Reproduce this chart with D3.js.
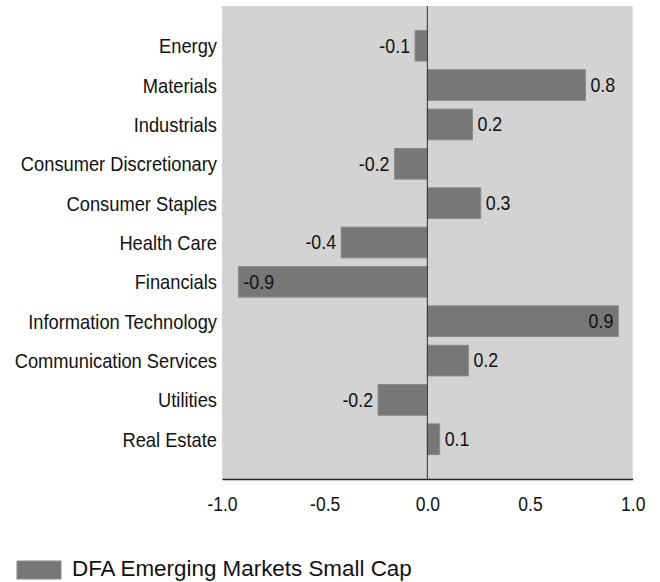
<!DOCTYPE html>
<html>
<head>
<meta charset="utf-8">
<script src="https://cdn.jsdelivr.net/npm/d3@7/dist/d3.min.js"></script>
<style>
  html, body { margin: 0; padding: 0; background: #fff; }
  svg { display: block; font-family: "Liberation Sans", Arial, sans-serif; }
</style>
</head>
<body>
<svg id="chart" width="660" height="582"></svg>
<script>
// Sector contributions, DFA Emerging Markets Small Cap
const sectors = [
  "Energy", "Materials", "Industrials", "Consumer Discretionary",
  "Consumer Staples", "Health Care", "Financials", "Information Technology",
  "Communication Services", "Utilities", "Real Estate"
];
const values = [-0.06, 0.77, 0.22, -0.16, 0.26, -0.42, -0.92, 0.93, 0.20, -0.24, 0.06];
const xTicks = [-1.0, -0.5, 0.0, 0.5, 1.0];
const seriesName = "DFA Emerging Markets Small Cap";

const svg = d3.select("#chart");
const plot = { left: 222, right: 632.7, top: 6, bottom: 479 };
const stretch = 1.14;

const x = d3.scaleLinear().domain([-1, 1]).range([plot.left, plot.right]);
const y = d3.scaleBand().domain(sectors).range([plot.top, plot.bottom])
  .paddingInner(0.22).paddingOuter(0.62);

// one decimal, plain hyphen for negatives
const fmt = v => d3.format(".1f")(v).replace("\u2212", "-");

// text with a slight vertical stretch
function placeText(sel, px, py) {
  sel.attr("transform", `translate(${px},${py}) scale(1,${stretch})`);
}

// plot background
svg.append("rect")
  .attr("x", plot.left).attr("y", plot.top)
  .attr("width", plot.right - plot.left).attr("height", plot.bottom - plot.top)
  .attr("fill", "#d3d3d3");

// bars
const data = sectors.map((s, i) => ({ s, v: values[i] }));
svg.append("g").selectAll("rect").data(data).join("rect")
  .attr("x", d => Math.min(x(0), x(d.v)))
  .attr("y", d => y(d.s))
  .attr("width", d => Math.abs(x(d.v) - x(0)))
  .attr("height", y.bandwidth())
  .attr("fill", "#777777")
  .attr("stroke", "#8a8a8a")
  .attr("stroke-width", 1);

// zero line
svg.append("line")
  .attr("x1", x(0)).attr("x2", x(0))
  .attr("y1", plot.top).attr("y2", plot.bottom)
  .attr("stroke", "#333").attr("stroke-width", 1);

// value labels; long bars carry their label inside
const isInside = d => Math.abs(d.v) > 0.85;
svg.append("g").selectAll("text").data(data).join("text")
  .attr("font-size", 17.8)
  .attr("fill", "#111")
  .attr("dominant-baseline", "central")
  .attr("text-anchor", d => (d.v >= 0) === isInside(d) ? "end" : "start")
  .text(d => fmt(d.v))
  .each(function (d) {
    const gap = 5;
    let px;
    if (d.v >= 0) px = isInside(d) ? x(d.v) - gap : x(d.v) + gap;
    else px = isInside(d) ? x(d.v) + gap : x(d.v) - gap;
    placeText(d3.select(this), px, y(d.s) + y.bandwidth() / 2);
  });

// category labels
svg.append("g").selectAll("text").data(sectors).join("text")
  .attr("font-size", 18.3)
  .attr("fill", "#111")
  .attr("text-anchor", "end")
  .attr("dominant-baseline", "central")
  .text(d => d)
  .each(function (d) {
    placeText(d3.select(this), plot.left - 5, y(d) + y.bandwidth() / 2);
  });

// bottom axis
const axis = svg.append("g").attr("transform", `translate(0,${plot.bottom})`)
  .call(d3.axisBottom(x).tickValues(xTicks).tickFormat(fmt).tickSize(0).tickPadding(0));
axis.select(".domain").attr("stroke", "#222").attr("stroke-width", 1.5);
axis.selectAll(".tick text")
  .attr("font-size", 17.5)
  .attr("font-family", "\"Liberation Sans\", Arial, sans-serif")
  .attr("fill", "#111")
  .attr("dy", null)
  .attr("y", null)
  .attr("dominant-baseline", "central")
  .each(function () { placeText(d3.select(this), 0, 25); });

// legend
svg.append("rect")
  .attr("x", 17).attr("y", 561).attr("width", 44).attr("height", 18)
  .attr("fill", "#777777").attr("stroke", "#8a8a8a");
svg.append("text")
  .attr("font-size", 22.4)
  .attr("fill", "#111")
  .attr("dominant-baseline", "central")
  .text(seriesName)
  .call(s => s.attr("transform", "translate(72,568)"));
</script>
</body>
</html>
